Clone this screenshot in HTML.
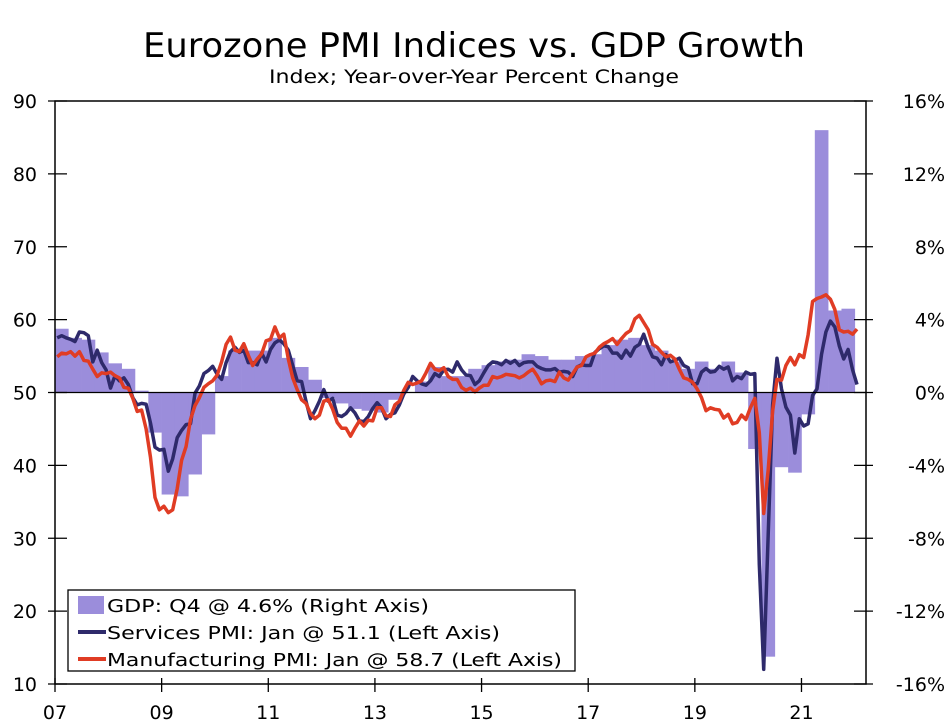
<!DOCTYPE html>
<html><head><meta charset="utf-8"><style>
html,body{margin:0;padding:0;background:#fff;}
svg{display:block;font-family:"DejaVu Sans","Liberation Sans",sans-serif;}
</style></head><body>
<svg id="chart" width="948" height="727" xmlns="http://www.w3.org/2000/svg">
<text x="474" y="57" text-anchor="middle" font-size="34" textLength="662" lengthAdjust="spacingAndGlyphs">Eurozone PMI Indices vs. GDP Growth</text>
<text x="474" y="83" text-anchor="middle" font-size="19" textLength="410" lengthAdjust="spacingAndGlyphs">Index; Year-over-Year Percent Change</text>
<g id="bars"></g>
<g id="lines"></g>
<g id="axes"></g>
<g>
<rect x="68" y="590" width="507" height="81" fill="#fff" stroke="#000" stroke-width="1.3"/>
<rect x="78" y="596" width="26" height="18" fill="#9b8ddb"/>
<text x="107" y="612" font-size="18" textLength="322" lengthAdjust="spacingAndGlyphs">GDP: Q4 @ 4.6% (Right Axis)</text>
<line x1="78" y1="632" x2="106" y2="632" stroke="#2e2a6b" stroke-width="4"/>
<text x="107" y="639" font-size="18" textLength="393" lengthAdjust="spacingAndGlyphs">Services PMI: Jan @ 51.1 (Left Axis)</text>
<line x1="78" y1="659" x2="106" y2="659" stroke="#e03c24" stroke-width="4"/>
<text x="107" y="666" font-size="18" textLength="455" lengthAdjust="spacingAndGlyphs">Manufacturing PMI: Jan @ 58.7 (Left Axis)</text>
</g>
</svg>
<script>
const services = [57.5,57.8,57.5,57.3,57.0,58.3,58.2,57.8,54.2,55.8,54.1,53.1,
50.6,52.3,51.6,52.0,51.1,49.3,48.3,48.5,48.4,45.8,42.5,42.1,
42.2,39.2,40.9,43.8,44.8,45.6,45.7,49.9,50.9,52.6,53.0,53.6,
52.5,51.8,54.1,55.6,56.2,55.5,55.8,54.1,54.1,53.8,55.4,54.2,
55.9,56.8,57.2,56.7,55.8,53.7,51.6,51.5,48.8,46.4,47.5,48.8,
50.4,48.8,49.2,46.9,46.7,47.1,47.9,47.2,46.1,46.0,46.7,47.8,
48.6,47.9,46.4,47.0,47.2,48.3,49.8,50.7,52.2,51.6,51.2,51.0,
51.6,52.6,52.2,53.1,53.2,52.8,54.2,53.1,52.4,52.3,51.1,51.6,
52.7,53.7,54.2,54.1,53.8,54.4,54.0,54.4,53.7,54.1,54.2,54.2,
53.6,53.3,53.1,53.1,53.3,52.8,52.9,52.8,52.2,53.5,53.8,53.7,
53.7,55.5,56.0,56.4,56.3,55.4,55.4,54.7,55.8,55.0,56.2,56.6,
58.0,56.2,54.9,54.7,53.8,55.2,54.2,54.4,54.7,53.7,53.4,51.2,
51.2,52.8,53.3,52.8,52.9,53.6,53.2,53.5,51.6,52.2,51.9,52.8,
52.5,52.6,26.4,12.0,30.5,48.3,54.7,50.5,48.0,46.9,41.7,46.4,
45.4,45.7,49.6,50.5,55.2,58.3,59.8,59.0,56.4,54.6,55.9,53.1,
51.1];
const manufacturing = [54.9,55.4,55.3,55.6,55.0,55.6,54.4,54.3,53.2,52.2,52.7,52.6,
52.8,52.3,52.0,50.7,50.6,49.2,47.4,47.6,45.0,41.1,35.6,33.9,
34.4,33.5,33.9,36.8,40.7,42.6,46.3,48.2,49.3,50.7,51.2,51.6,
52.4,54.2,56.6,57.6,55.8,55.6,56.7,55.1,53.7,54.6,55.3,57.1,
57.3,59.0,57.5,58.0,54.6,52.0,50.4,49.0,48.5,47.1,46.4,46.9,
48.8,49.0,47.7,45.9,45.1,45.1,44.0,45.1,46.1,45.4,46.2,46.1,
47.9,47.9,46.8,46.7,48.3,48.8,50.3,51.4,51.1,51.3,51.6,52.7,
54.0,53.2,53.0,53.4,52.2,51.8,51.8,50.7,50.3,50.6,50.1,50.6,
51.0,51.0,52.2,52.0,52.2,52.5,52.4,52.3,52.0,52.3,52.8,53.2,
52.3,51.2,51.6,51.7,51.5,52.8,52.0,51.7,52.6,53.5,53.7,54.9,
55.2,55.4,56.2,56.7,57.0,57.4,56.6,57.4,58.1,58.5,60.1,60.6,
59.6,58.6,56.6,56.2,55.5,54.9,55.1,54.6,53.2,52.0,51.8,51.4,
50.5,49.3,47.5,47.9,47.7,47.6,46.5,47.0,45.7,45.9,46.9,46.3,
47.9,49.2,44.5,33.4,39.4,47.4,51.8,51.7,53.7,54.8,53.8,55.2,
54.8,57.9,62.5,62.9,63.1,63.4,62.8,61.4,58.6,58.3,58.4,58.0,
58.7];
const gdp = [3.5,3.0,2.9,2.2, 1.6,1.3,0.1,-2.2, -5.6,-5.7,-4.5,-2.3,
0.9,2.3,2.3,2.3, 3.0,1.9,1.4,0.7, -0.3,-0.6,-0.9,-1.0,
-1.1,-0.4,0.0,0.6, 1.4,0.9,0.9,1.3, 1.5,1.7,1.8,2.1,
2.0,1.8,1.8,2.0, 2.1,2.6,2.9,3.0, 2.6,2.3,1.7,1.3,
1.7,1.3,1.7,1.1, -3.1,-14.5,-4.1,-4.4, -1.2,14.4,4.5,4.6];
const leftTicks = [10,20,30,40,50,60,70,80,90];
const rightTicks = ["-16%","-12%","-8%","-4%","0%","4%","8%","12%","16%"];
const rightTickValues = [-16,-12,-8,-4,0,4,8,12,16];
const xTickLabels = ["07","09","11","13","15","17","19","21"];
const xTickYears = [2007,2009,2011,2013,2015,2017,2019,2021];

const X0=55, X1=866, Y0=101, Y1=684, startYear=2007, endYear=2022.21;
const NS="http://www.w3.org/2000/svg";
function xs(t){return X0+(t-startYear)/(endYear-startYear)*(X1-X0);}
function yl(v){return Y1-(v-10)/80*(Y1-Y0);}
function yr(v){return Y1-(v+16)/32*(Y1-Y0);}
function mk(tag,attrs,parent){const e=document.createElementNS(NS,tag);for(const k in attrs)e.setAttribute(k,attrs[k]);parent.appendChild(e);return e;}

const bars=document.getElementById('bars');
gdp.forEach((v,i)=>{
  const xa=xs(startYear+i/4), xb=xs(startYear+(i+1)/4);
  const y=yr(v), z=yr(0);
  const r=mk('rect',{x:xa,y:Math.min(y,z),width:xb-xa+0.3,height:Math.abs(z-y),fill:'#9b8ddb'},bars);
  
  
});
const lines=document.getElementById('lines');
function drawLine(arr,color,name){
  const pts=arr.map((v,i)=>xs(startYear+(i+0.5)/12).toFixed(1)+','+yl(v).toFixed(1)).join(' ');
  const p=mk('polyline',{points:pts,fill:'none',stroke:color,'stroke-width':3.5,'stroke-linejoin':'round'},lines);
  
  
}
const axes=document.getElementById('axes');
const zl=mk('line',{x1:X0,x2:X1,y1:yr(0),y2:yr(0),stroke:'#000','stroke-width':1.3},axes);


drawLine(services,'#2e2a6b','services-pmi-line');
drawLine(manufacturing,'#e03c24','manufacturing-pmi-line');
const frame=mk('rect',{x:X0,y:Y0,width:X1-X0,height:Y1-Y0,fill:'none',stroke:'#000','stroke-width':1.5},axes);


leftTicks.forEach(v=>{
  const y=yl(v);
  mk('line',{x1:X0-7,x2:X0+12,y1:y,y2:y,stroke:'#000','stroke-width':1.3},axes);
  const t=mk('text',{x:37,y:y+7,'text-anchor':'end','font-size':19},axes);
  t.textContent=v;
  
  
});
rightTickValues.forEach((v,i)=>{
  const y=yr(v);
  mk('line',{x1:X1-12,x2:X1+7,y1:y,y2:y,stroke:'#000','stroke-width':1.3},axes);
  const t=mk('text',{x:945,y:y+7,'text-anchor':'end','font-size':19},axes);
  t.textContent=rightTicks[i];
  
  
});
xTickYears.forEach((yv,i)=>{
  const x=xs(yv);
  mk('line',{x1:x,x2:x,y1:Y1-6,y2:Y1+8,stroke:'#000','stroke-width':1.3},axes);
  const t=mk('text',{x:x,y:719,'text-anchor':'middle','font-size':19},axes);
  t.textContent=xTickLabels[i];
  
  
});
</script>
</body></html>
